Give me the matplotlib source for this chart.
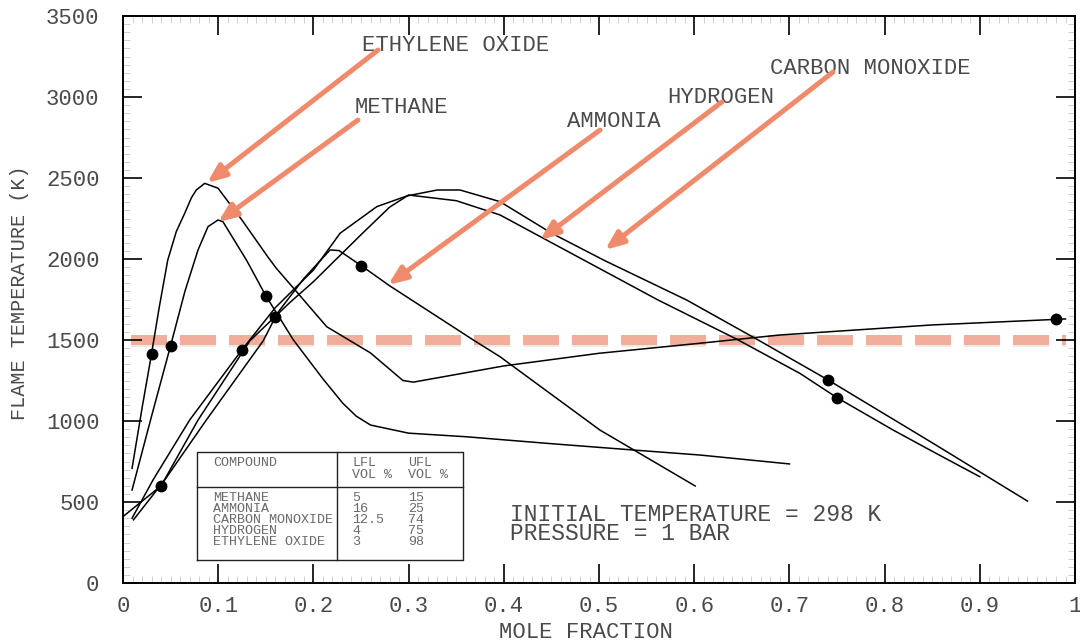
import numpy as np
import matplotlib
matplotlib.use("Agg")
import matplotlib.pyplot as plt
from matplotlib.ticker import MultipleLocator
import matplotlib.patheffects as pe

# ---------------- data ----------------
eo_x = [0.0095, 0.02, 0.029, 0.038, 0.047, 0.056, 0.0648, 0.072, 0.077, 0.0858, 0.0998, 0.125,
        0.152, 0.161, 0.214, 0.26, 0.294, 0.305, 0.40, 0.50, 0.606, 0.69, 0.85, 0.99]
eo_t = [708, 1080, 1381, 1700, 1994, 2170, 2282, 2380, 2426, 2467, 2437, 2240,
        2014, 1943, 1582, 1420, 1250, 1240, 1340, 1418, 1480, 1531, 1593, 1630]

me_x = [0.0095, 0.03, 0.0508, 0.065, 0.0788, 0.0893, 0.0998, 0.105, 0.13, 0.15, 0.179, 0.21,
        0.231, 0.245, 0.26, 0.30, 0.36, 0.45, 0.536, 0.606, 0.70]
me_t = [574, 1030, 1483, 1800, 2056, 2200, 2241, 2230, 1990, 1773, 1500, 1260,
        1109, 1030, 975, 925, 903, 860, 821, 790, 735]

am_x = [0.011, 0.0438, 0.0875, 0.1474, 0.162, 0.19, 0.2175, 0.227, 0.2507, 0.28, 0.368, 0.396,
        0.501, 0.601]
am_t = [390, 636, 1006, 1496, 1665, 1880, 2056, 2052, 1957, 1835, 1500, 1397,
        944, 599]

co_x = [0.0095, 0.0315, 0.070, 0.125, 0.16, 0.20, 0.228, 0.2665, 0.298, 0.33, 0.354, 0.396,
        0.45, 0.506, 0.592, 0.666, 0.739, 0.851, 0.95]
co_t = [400, 636, 1006, 1440, 1700, 1932, 2159, 2323, 2389, 2426, 2426, 2354,
        2160, 1990, 1747, 1504, 1259, 862, 506]

h2_x = [0.0, 0.02, 0.04, 0.0788, 0.1334, 0.175, 0.20, 0.25, 0.28, 0.30, 0.35, 0.396,
        0.438, 0.562, 0.645, 0.711, 0.75, 0.809, 0.851, 0.90]
h2_t = [410, 505, 600, 1006, 1496, 1730, 1860, 2150, 2320, 2395, 2360, 2272,
        2139, 1747, 1504, 1294, 1144, 944, 810, 656]

compounds = ["METHANE", "AMMONIA", "CARBON MONOXIDE", "HYDROGEN", "ETHYLENE OXIDE"]
lfl = [5, 16, 12.5, 4, 3]
ufl = [15, 25, 74, 75, 98]
lfl_text = ["5", "16", "12.5", "4", "3"]
ufl_text = ["15", "25", "74", "75", "98"]

threshold_t = 1500

x_ticks = [0, 0.1, 0.2, 0.3, 0.4, 0.5, 0.6, 0.7, 0.8, 0.9, 1]
x_tick_labels = ["0", "0.1", "0.2", "0.3", "0.4", "0.5", "0.6", "0.7", "0.8", "0.9", "1"]
y_ticks = [0, 500, 1000, 1500, 2000, 2500, 3000, 3500]

curves = {
    "METHANE": (me_x, me_t),
    "AMMONIA": (am_x, am_t),
    "CARBON MONOXIDE": (co_x, co_t),
    "HYDROGEN": (h2_x, h2_t),
    "ETHYLENE OXIDE": (eo_x, eo_t),
}

# arrow annotations: label, text pos, arrow tail, arrow head
ann_labels = ["ETHYLENE OXIDE", "METHANE", "AMMONIA", "HYDROGEN", "CARBON MONOXIDE"]
ann_text_xy = [(0.251, 3321), (0.2437, 2938), (0.4664, 2846), (0.5714, 3000), (0.6796, 3173)]
ann_tail = [(0.2679, 3290), (0.2468, 2858), (0.501, 2796), (0.629, 2969), (0.7458, 3154)]
ann_head = [(0.0882, 2469), (0.0998, 2228), (0.2784, 1840), (0.438, 2117), (0.5063, 2056)]

conditions = "INITIAL TEMPERATURE = 298 K\nPRESSURE = 1 BAR"

# ---------------- plot ----------------
FONT = ["Liberation Mono", "DejaVu Sans Mono"]
TXT = "#4a4a4a"
plt.rcParams["font.family"] = FONT

fig = plt.figure(figsize=(10.8, 6.43), dpi=100)
ax = fig.add_axes([0.1139, 0.0933, 0.8815, 0.8818])
ax.set_xlim(0, 1)
ax.set_ylim(0, 3500)

# threshold dashed line
ax.plot([0.0084, 0.99], [threshold_t, threshold_t], color="#F0AE9B", lw=7.2,
        dashes=(3.6, 1.3), solid_capstyle="butt", zorder=1,
        path_effects=[pe.SimpleLineShadow(offset=(0, -1.5), shadow_color="#c8a090", alpha=0.25),
                      pe.Normal()])

for name, (xs, ts) in curves.items():
    ax.plot(xs, ts, color="black", lw=1.1, zorder=3)

# LFL / UFL dots
for name, lo, hi in zip(compounds, lfl, ufl):
    xs, ts = curves[name]
    for v in (lo, hi):
        xv = min(v / 100.0, max(xs))
        ax.plot([xv], [np.interp(xv, xs, ts)], "o", color="black", ms=7.5, zorder=4)

# arrows + labels
for lab, txy, tail, head in zip(ann_labels, ann_text_xy, ann_tail, ann_head):
    ax.annotate("", xy=head, xytext=tail,
                arrowprops=dict(arrowstyle="-|>,head_length=1.1,head_width=0.45",
                                color="#F08A6C", lw=3.6, shrinkA=0, shrinkB=0),
                zorder=5)
    ax.text(txy[0], txy[1], lab, fontsize=16, color=TXT, ha="left", va="center")

# condition text (two lines)
ax.text(0.4065, 364, conditions, fontsize=16.5, color=TXT, ha="left", va="center",
        linespacing=0.78)

# table
tl, tr, tt, tb = 0.0774, 0.3575, 810, 142
hsep, csep = 594, 0.2251
ax.plot([tl, tr, tr, tl, tl], [tb, tb, tt, tt, tb], color="#222222", lw=1.0, zorder=6)
ax.plot([tl, tr], [hsep, hsep], color="#222222", lw=1.0, zorder=6)
ax.plot([csep, csep], [tb, tt], color="#222222", lw=1.0, zorder=6)
ax.fill([tl, tr, tr, tl], [tb, tb, tt, tt], color="white", zorder=5.5)
TBL = "#6a6a6a"
FS = 9.6
ax.text(0.0949, 739, "COMPOUND", fontsize=FS, color=TBL, va="center", zorder=7)
ax.text(0.2409, 703, "LFL\nVOL %", fontsize=FS, color=TBL, va="center", zorder=7, linespacing=0.95)
ax.text(0.2994, 703, "UFL\nVOL %", fontsize=FS, color=TBL, va="center", zorder=7, linespacing=0.95)
row_t = [529, 461, 393, 323, 252]
ax.text(0.0949, 390, "\n".join(compounds), fontsize=FS, color=TBL, va="center", zorder=7,
        linespacing=0.88)
ax.text(0.2409, 390, "\n".join(lfl_text), fontsize=FS, color=TBL, va="center", zorder=7,
        linespacing=0.88)
ax.text(0.2994, 390, "\n".join(ufl_text), fontsize=FS, color=TBL, va="center", zorder=7,
        linespacing=0.88)

# axes styling
ax.set_xticks(x_ticks)
ax.set_xticklabels(x_tick_labels)
ax.set_yticks(y_ticks)
ax.xaxis.set_minor_locator(MultipleLocator(0.01))
ax.yaxis.set_minor_locator(MultipleLocator(50))
ax.tick_params(which="major", direction="in", length=14, width=1.2, color="black",
               top=True, right=True, labelsize=16, labelcolor=TXT)
ax.tick_params(axis="y", which="major", pad=17)
ax.tick_params(axis="x", which="major", pad=9)
ax.tick_params(which="minor", direction="in", length=5, width=0.7, color="#d0d0d0",
               top=True, right=True)
for s in ax.spines.values():
    s.set_linewidth(1.4)

fig.text(0.5426, 0.016, "MOLE FRACTION", fontsize=16, color=TXT, ha="center", va="center")
fig.text(0.018, 0.545, "FLAME TEMPERATURE (K)", fontsize=14.5, color=TXT, rotation=90,
         ha="center", va="center")

fig.savefig("out.png", dpi=100)
